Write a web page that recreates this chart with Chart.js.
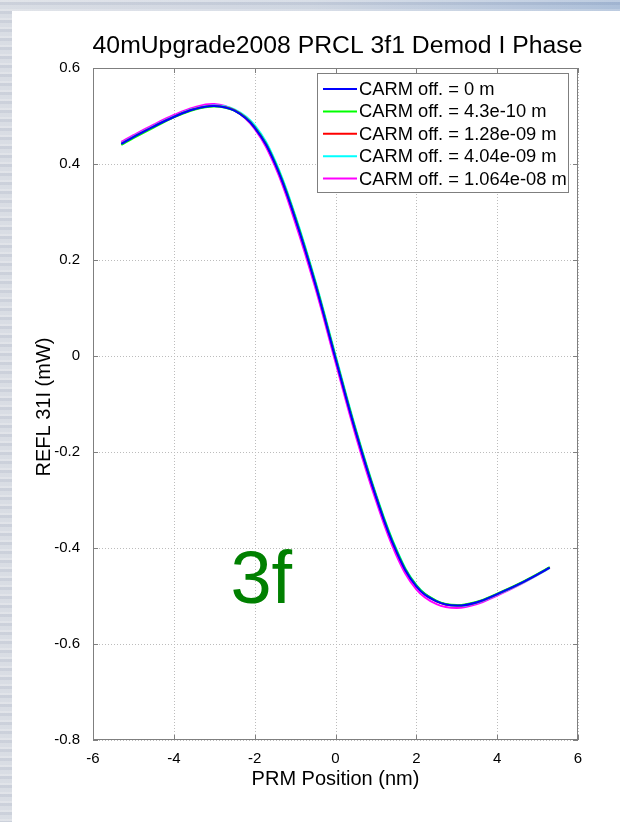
<!DOCTYPE html>
<html>
<head>
<meta charset="utf-8">
<title>40mUpgrade2008 PRCL 3f1 Demod I Phase</title>
<script src="https://cdn.jsdelivr.net/npm/chart.js@4.4.0/dist/chart.umd.min.js"></script>
<style>
  html, body { margin: 0; padding: 0; }
  body {
    width: 620px; height: 822px; overflow: hidden; position: relative;
    background:
      repeating-linear-gradient(180deg, rgba(255,255,255,0.28) 0 2px, rgba(140,150,175,0.12) 2px 5px, rgba(255,255,255,0.1) 5px 9px),
      linear-gradient(90deg, #d5d9e1 0%, #c9d1de 50%, #a3b8d5 100%);
  }
  #sheet { position: absolute; left: 12px; top: 11px; right: 0; bottom: 0; background: #fff; }
  #wrap { position: absolute; left: 0; top: 0; width: 620px; height: 822px; }
</style>
</head>
<body>
<div id="sheet"></div>
<div id="wrap"><canvas id="chart" width="620" height="822"></canvas></div>
<script>
// PRM position (nm)
const xPos = [-5.3, -5, -4.5, -4, -3.5, -3, -2.5, -2, -1.5, -1, -0.5, 0, 0.5, 1, 1.5, 2, 2.5, 3, 3.5, 4, 4.5, 5, 5.3];

// REFL 31I (mW) for each CARM offset
const carm0    = [0.442, 0.456, 0.478, 0.498, 0.514, 0.521, 0.511, 0.476, 0.402, 0.287, 0.150, -0.005, -0.158, -0.293, -0.406, -0.480, -0.511, -0.520, -0.513, -0.496, -0.477, -0.455, -0.441];
const carm4e10 = [0.440, 0.454, 0.476, 0.497, 0.513, 0.520, 0.511, 0.477, 0.404, 0.290, 0.153, -0.002, -0.155, -0.290, -0.403, -0.478, -0.510, -0.519, -0.512, -0.495, -0.476, -0.454, -0.440];
const carm1e9  = [0.442, 0.456, 0.478, 0.498, 0.514, 0.521, 0.512, 0.477, 0.403, 0.289, 0.152, -0.003, -0.156, -0.291, -0.405, -0.479, -0.511, -0.520, -0.513, -0.496, -0.477, -0.455, -0.441];
const carm4e9  = [0.443, 0.457, 0.479, 0.499, 0.515, 0.522, 0.514, 0.481, 0.408, 0.294, 0.157, 0.002, -0.151, -0.287, -0.401, -0.477, -0.510, -0.521, -0.514, -0.497, -0.478, -0.456, -0.442];
const carm1e8  = [0.446, 0.460, 0.482, 0.502, 0.518, 0.525, 0.512, 0.473, 0.396, 0.279, 0.142, -0.013, -0.166, -0.301, -0.414, -0.486, -0.517, -0.525, -0.517, -0.499, -0.479, -0.456, -0.441];

const seriesLabels = ['CARM off. = 0 m', 'CARM off. = 4.3e-10 m', 'CARM off. = 1.28e-09 m', 'CARM off. = 4.04e-09 m', 'CARM off. = 1.064e-08 m'];
const seriesValues = [carm0, carm4e10, carm1e9, carm4e9, carm1e8];
const seriesColors = ['#0000ff', '#00ff00', '#ff0000', '#00ffff', '#ff00ff'];

const xTicks = [-6, -4, -2, 0, 2, 4, 6];
const yTicks = [-0.8, -0.6, -0.4, -0.2, 0, 0.2, 0.4, 0.6];

const SANS = '"Liberation Sans", Arial, sans-serif';
const AXIS_GRAY = '#7f7f7f';

// shrink/grow a font so the text takes a given width
function fitFont(ctx, text, width) {
    ctx.font = '100px ' + SANS;
    return 100 * width / ctx.measureText(text).width;
}

const matlabLook = {
    id: 'matlabLook',
    beforeDatasetsDraw(chart) {
        const { ctx, chartArea: a, scales: { x, y } } = chart;
        ctx.save();
        ctx.strokeStyle = '#bcbcbc';
        ctx.lineWidth = 1;
        ctx.setLineDash([1, 2]);
        x.ticks.forEach(t => {
            const px = Math.round(x.getPixelForValue(t.value)) + 0.5;
            ctx.beginPath(); ctx.moveTo(px, a.top); ctx.lineTo(px, a.bottom); ctx.stroke();
        });
        y.ticks.forEach(t => {
            const py = Math.round(y.getPixelForValue(t.value)) + 0.5;
            ctx.beginPath(); ctx.moveTo(a.left, py); ctx.lineTo(a.right, py); ctx.stroke();
        });
        ctx.restore();
    },
    afterDatasetsDraw(chart) {
        const { ctx, chartArea: a, scales: { x, y } } = chart;
        ctx.save();

        // axes box with inward ticks
        ctx.strokeStyle = AXIS_GRAY;
        ctx.lineWidth = 1;
        ctx.strokeRect(a.left + 0.5, a.top + 0.5, a.right - a.left - 1, a.bottom - a.top - 1);
        ctx.beginPath();
        x.ticks.forEach(t => {
            const px = Math.round(x.getPixelForValue(t.value)) + 0.5;
            ctx.moveTo(px, a.bottom); ctx.lineTo(px, a.bottom - 5);
            ctx.moveTo(px, a.top); ctx.lineTo(px, a.top + 5);
        });
        y.ticks.forEach(t => {
            const py = Math.round(y.getPixelForValue(t.value)) + 0.5;
            ctx.moveTo(a.left, py); ctx.lineTo(a.left + 5, py);
            ctx.moveTo(a.right, py); ctx.lineTo(a.right - 5, py);
        });
        ctx.stroke();

        // legend
        const lx = 317, ly = 73, lw = 252, lh = 120, rowH = 22.4;
        ctx.fillStyle = '#fff';
        ctx.fillRect(lx, ly, lw, lh);
        ctx.strokeStyle = AXIS_GRAY;
        ctx.strokeRect(lx + 0.5, ly + 0.5, lw - 1, lh - 1);
        const legendSize = fitFont(ctx, seriesLabels[4], 208);
        ctx.font = legendSize + 'px ' + SANS;
        ctx.textAlign = 'left';
        ctx.textBaseline = 'middle';
        seriesLabels.forEach((label, i) => {
            const ry = ly + 16 + i * rowH;
            ctx.strokeStyle = seriesColors[i];
            ctx.lineWidth = 2;
            ctx.beginPath(); ctx.moveTo(lx + 6, ry); ctx.lineTo(lx + 40, ry); ctx.stroke();
            ctx.fillStyle = '#000';
            ctx.fillText(label, lx + 42, ry + 1);
        });

        // title and axis labels
        const midX = (a.left + a.right) / 2;
        const title = '40mUpgrade2008 PRCL 3f1 Demod I Phase';
        ctx.font = fitFont(ctx, title, 490) + 'px ' + SANS;
        ctx.fillStyle = '#000';
        ctx.textAlign = 'center';
        ctx.fillText(title, midX + 2, 46);

        ctx.font = '20px ' + SANS;
        ctx.fillText('PRM Position (nm)', midX, 779);
        ctx.save();
        ctx.translate(44, (a.top + a.bottom) / 2 + 3);
        ctx.rotate(-Math.PI / 2);
        ctx.fillText('REFL 31I (mW)', 0, 0);
        ctx.restore();

        // "3f" annotation, placed in data units
        ctx.font = '74px ' + SANS;
        ctx.fillStyle = '#008000';
        ctx.textAlign = 'left';
        ctx.textBaseline = 'alphabetic';
        ctx.fillText('3f', x.getPixelForValue(-2.6), y.getPixelForValue(-0.515));

        ctx.restore();
    }
};

const datasets = seriesValues.map((vals, i) => ({
    label: seriesLabels[i],
    data: xPos.map((xv, j) => ({ x: xv, y: vals[j] })),
    borderColor: seriesColors[i],
    backgroundColor: seriesColors[i],
    borderWidth: 2,
    pointRadius: 0,
    fill: false,
    tension: 0.4
}));

new Chart(document.getElementById('chart'), {
    type: 'line',
    data: { datasets },
    options: {
        responsive: false,
        animation: false,
        layout: { padding: { left: 0, top: 68, right: 42, bottom: 0 } },
        plugins: { legend: { display: false }, tooltip: { enabled: false }, title: { display: false } },
        scales: {
            x: {
                type: 'linear',
                min: -6, max: 6,
                afterFit: s => { s.height = 82; },
                afterBuildTicks: s => { s.ticks = xTicks.map(v => ({ value: v })); },
                grid: { display: false },
                border: { display: false },
                ticks: {
                    color: '#000', padding: 2, maxRotation: 0, autoSkip: false,
                    font: { family: SANS, size: 15 },
                    callback: v => String(v)
                }
            },
            y: {
                type: 'linear',
                min: -0.8, max: 0.6,
                afterFit: s => { s.width = 93; },
                afterBuildTicks: s => { s.ticks = yTicks.map(v => ({ value: v })); },
                grid: { display: false },
                border: { display: false },
                ticks: {
                    color: '#000', padding: 5, autoSkip: false,
                    font: { family: SANS, size: 15 },
                    callback: v => String(+v.toFixed(1))
                }
            }
        }
    },
    plugins: [matlabLook]
});
</script>
</body>
</html>
